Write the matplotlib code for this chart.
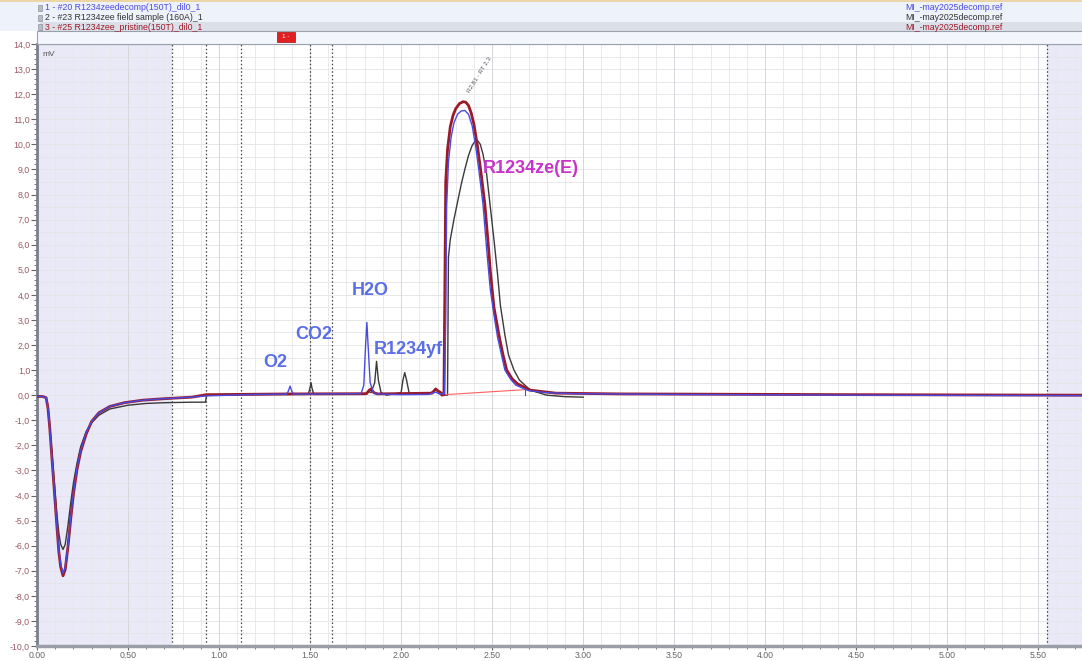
"""
GC chromatogram overlay (R1234ze decomposition samples), screenshot-style recreation.
"""
import matplotlib
matplotlib.use("Agg")
import matplotlib.pyplot as plt
from matplotlib.patches import Rectangle
from matplotlib.ticker import MultipleLocator, FuncFormatter
import numpy as np

plt.rcParams.update({
    "font.family": ["Liberation Sans", "DejaVu Sans"],
    "font.size": 7,
})

# ---- data (time in min, signal in mV) ----
blue_t = [0.00, 0.03, 0.05, 0.06, 0.07, 0.08, 0.09, 0.10, 0.11, 0.12, 0.13, 0.143, 0.155,
          0.17, 0.185, 0.20, 0.22, 0.24, 0.27, 0.30, 0.34, 0.40, 0.48, 0.58, 0.70, 0.85,
          0.93, 1.20, 1.37, 1.38, 1.39, 1.40, 1.41, 1.60, 1.78, 1.795, 1.805, 1.812, 1.82,
          1.83, 1.845, 1.86, 2.00, 2.15, 2.19, 2.21, 2.238, 2.245, 2.25, 2.26, 2.275, 2.29,
          2.31, 2.33, 2.35, 2.37, 2.39, 2.41, 2.43, 2.45, 2.47, 2.49, 2.51, 2.53, 2.55,
          2.57, 2.60, 2.63, 2.70, 2.80, 2.95, 3.50, 4.50, 5.74]
blue_v = [-0.05, -0.05, -0.10, -0.50, -1.30, -2.30, -3.30, -4.30, -5.30, -6.20, -6.75, -7.10, -6.85,
          -6.00, -4.90, -3.90, -2.90, -2.20, -1.50, -1.05, -0.70, -0.45, -0.30, -0.20, -0.14, -0.08,
          -0.03, 0.03, 0.04, 0.15, 0.36, 0.15, 0.04, 0.05, 0.06, 0.40, 2.00, 2.90, 1.80,
          0.50, 0.15, 0.05, 0.02, 0.03, 0.12, 0.05, 0.05, 3.00, 7.50, 9.30, 10.30, 10.85,
          11.20, 11.33, 11.35, 11.20, 10.75, 9.90, 8.80, 7.60, 5.80, 4.20, 3.20, 2.30, 1.65,
          1.00, 0.65, 0.40, 0.18, 0.10, 0.06, 0.03, 0.00, -0.02]

black_t = [0.00, 0.03, 0.05, 0.06, 0.07, 0.08, 0.09, 0.10, 0.11, 0.12, 0.13, 0.143, 0.155,
           0.17, 0.185, 0.20, 0.22, 0.24, 0.27, 0.30, 0.34, 0.40, 0.50, 0.60, 0.70, 0.85,
           0.925, 0.932, 1.20, 1.49, 1.50, 1.505, 1.51, 1.52, 1.80, 1.82, 1.835, 1.855,
           1.865, 1.875, 1.89, 1.92, 2.00, 2.01, 2.02, 2.03, 2.045, 2.15, 2.19, 2.215, 2.24,
           2.255, 2.26, 2.27, 2.29, 2.31, 2.33, 2.35, 2.37, 2.39, 2.405, 2.42, 2.435, 2.45,
           2.47, 2.49, 2.51, 2.53, 2.545, 2.57, 2.59, 2.62, 2.65, 2.71, 2.80, 2.90, 3.00]
black_v = [-0.05, -0.05, -0.10, -0.45, -1.20, -2.10, -3.00, -3.90, -4.80, -5.50, -5.95, -6.15, -5.95,
           -5.20, -4.30, -3.50, -2.70, -2.05, -1.45, -1.10, -0.80, -0.55, -0.40, -0.33, -0.30, -0.28,
           -0.28, 0.00, 0.02, 0.03, 0.30, 0.50, 0.30, 0.03, 0.03, 0.15, 0.10, 0.50,
           1.35, 0.60, 0.10, 0.00, 0.10, 0.60, 0.90, 0.60, 0.05, 0.05, 0.20, 0.15, 0.00,
           0.00, 5.50, 6.20, 7.00, 7.70, 8.40, 9.00, 9.55, 9.95, 10.12, 10.15, 10.00, 9.60,
           8.80, 7.50, 6.20, 4.80, 3.60, 2.40, 1.60, 1.00, 0.60, 0.20, 0.00, -0.06, -0.08]

red_t = [0.00, 0.03, 0.05, 0.06, 0.07, 0.08, 0.09, 0.10, 0.11, 0.12, 0.13, 0.143, 0.155,
         0.17, 0.185, 0.20, 0.22, 0.24, 0.27, 0.30, 0.34, 0.40, 0.48, 0.58, 0.70, 0.85,
         0.93, 1.40, 1.81, 1.825, 1.835, 1.85, 1.87, 2.17, 2.19, 2.21, 2.225, 2.235, 2.24,
         2.245, 2.255, 2.27, 2.285, 2.30, 2.32, 2.34, 2.355, 2.37, 2.385, 2.40, 2.42, 2.44,
         2.46, 2.48, 2.49, 2.51, 2.54, 2.56, 2.58, 2.61, 2.64, 2.71, 2.85, 3.20, 4.50, 5.74]
red_v = [-0.05, -0.05, -0.10, -0.50, -1.30, -2.30, -3.30, -4.30, -5.30, -6.25, -6.85, -7.20, -6.95,
         -6.05, -4.95, -3.95, -2.95, -2.25, -1.55, -1.05, -0.70, -0.45, -0.30, -0.20, -0.14, -0.08,
         0.02, 0.05, 0.06, 0.20, 0.25, 0.10, 0.05, 0.08, 0.25, 0.12, 0.00, 0.02, 4.00,
         8.50, 9.80, 10.70, 11.15, 11.42, 11.62, 11.70, 11.68, 11.55, 11.25, 10.80, 9.90, 8.80,
         7.60, 5.90, 4.95, 3.50, 2.30, 1.60, 1.00, 0.65, 0.45, 0.20, 0.08, 0.05, 0.02, 0.00]

# integration baseline drawn under the main peak
base_t = [2.24, 2.68]
base_v = [0.02, 0.22]

# dashed event markers and shaded (inactive) windows
event_t = [0.74, 0.93, 1.12, 1.50, 1.62, 5.55]
shade_windows = [(0.0, 0.74), (5.55, 5.74)]

# peak names: (label, time, mV, colour)
peak_labels = [
    ("O2", 1.31, 1.30, "#5a6ee6"),
    ("CO2", 1.52, 2.42, "#5a6ee6"),
    ("H2O", 1.83, 4.17, "#5a6ee6"),
    ("R1234yf", 2.04, 1.83, "#5a6ee6"),
    ("R1234ze(E)", 2.71, 9.05, "#c833c8"),
]

legend_rows = [
    ("1 - #20 R1234zeedecomp(150T)_dil0_1", "#4a4ae0"),
    ("2 - #23 R1234zee field sample (160A)_1", "#333333"),
    ("3 - #25 R1234zee_pristine(150T)_dil0_1", "#9a1a28"),
]
ref_name = "MI_-may2025decomp.ref"

W, H = 1082, 661


def fy(py):
    return 1 - py / H


def main():
    fig = plt.figure(figsize=(W / 100, H / 100), dpi=100)

    # ---- header (sample list) ----
    fig.patches.append(Rectangle((0, fy(2)), 1, 2 / H, transform=fig.transFigure,
                                 facecolor="#ecd6a8", edgecolor="none"))
    fig.patches.append(Rectangle((0, fy(31)), 1, 29 / H, transform=fig.transFigure,
                                 facecolor="#eef2fa", edgecolor="none"))
    fig.patches.append(Rectangle((40 / W, fy(31)), 1, 9 / H, transform=fig.transFigure,
                                 facecolor="#dcdfe8", edgecolor="none"))
    fig.patches.append(Rectangle((37 / W, fy(44)), 1, 13 / H, transform=fig.transFigure,
                                 facecolor="#f3f6fc", edgecolor="#9aa0ac", lw=0.8))
    fig.patches.append(Rectangle((277 / W, fy(42)), 18 / W, 10 / H, transform=fig.transFigure,
                                 facecolor="#e02020", edgecolor="#a01010", lw=0.5))
    fig.text(286 / W, fy(37), "1 -", color="white", fontsize=4.5, ha="center", va="center")
    for i, (name, col) in enumerate(legend_rows):
        y = fy(8 + i * 9.5)
        fig.patches.append(Rectangle((38 / W, y - 3 / H), 4 / W, 6 / H, transform=fig.transFigure,
                                     facecolor="#b8bcc4", edgecolor="#80848c", lw=0.4))
        fig.text(45 / W, y, name, color=col, fontsize=6.3, va="center")
        fig.text(905 / W, y, ref_name, color=col, fontsize=6.3, va="center")

    # ---- chromatogram ----
    ax = fig.add_axes([37 / W, 15 / H, (W - 37) / W, 602 / H])
    ax.set_xlim(0, 5.74)
    ax.set_ylim(-10, 14)

    for x0, x1 in shade_windows:
        ax.axvspan(x0, x1, color="#e9e9f8", lw=0, zorder=0)
    for yv in np.arange(-10, 14.01, 0.5):
        ax.axhline(yv, color="#e4e4e8", lw=0.6, zorder=0.5)
    for xv in np.arange(0, 5.75, 0.1):
        ax.axvline(xv, color="#e6e6ea", lw=0.6, zorder=0.5)
    for xv in np.arange(0, 5.75, 0.5):
        ax.axvline(xv, color="#d6d6dc", lw=0.7, zorder=0.6)
    for xv in event_t:
        ax.axvline(xv, color="#444444", lw=0.9, ls=(0, (1.2, 1.8)), zorder=1)

    ax.plot(black_t, black_v, color="#3a3a3a", lw=1.0, zorder=3)
    ax.plot(red_t, red_v, color="#9a1a28", lw=2.0, zorder=4, solid_joinstyle="round")
    ax.plot(blue_t, blue_v, color="#4a4ae0", lw=1.0, zorder=5)
    ax.plot(base_t, base_v, color="#ff6060", lw=0.8, zorder=3)
    ax.plot([base_t[1], base_t[1]], [0.0, 0.2], color="#4a4ae0", lw=0.8, zorder=5)

    for label, t, v, col in peak_labels:
        ax.text(t, v, label, color=col, fontsize=13, weight="bold", ha="center", va="center",
                zorder=6)
    ax.text(2.43, 12.8, "R2,81 - RT 2,3", fontsize=4.5, color="#555555", rotation=58,
            ha="center", va="center")
    ax.text(0.03, 13.6, "mV", fontsize=6, color="#555555", va="center")

    ax.xaxis.set_major_locator(MultipleLocator(0.5))
    ax.xaxis.set_minor_locator(MultipleLocator(0.1))
    ax.yaxis.set_major_locator(MultipleLocator(1.0))
    ax.yaxis.set_minor_locator(MultipleLocator(0.2))
    ax.xaxis.set_major_formatter(FuncFormatter(lambda v, p: f"{v:.2f}"))
    ax.yaxis.set_major_formatter(FuncFormatter(lambda v, p: f"{v:.1f}".replace(".", ",")))
    ax.tick_params(axis="y", which="major", length=4, labelsize=6.3, labelcolor="#9a5a66",
                   color="#666666", pad=1)
    ax.tick_params(axis="y", which="minor", length=2, color="#666666")
    ax.tick_params(axis="x", which="major", length=3, labelsize=6.3, labelcolor="#666666",
                   color="#666666", pad=0.5)
    ax.tick_params(axis="x", which="minor", length=2, color="#666666")

    ax.spines["left"].set_color("#7a7f88")
    ax.spines["left"].set_linewidth(2.0)
    ax.spines["bottom"].set_color("#9a9ea6")
    ax.spines["bottom"].set_linewidth(2.5)
    ax.spines["top"].set_color("#9aa0ac")
    ax.spines["top"].set_linewidth(0.8)
    ax.spines["right"].set_visible(False)

    fig.savefig("out.png", dpi=100, facecolor="white")
    plt.close(fig)


if __name__ == "__main__":
    main()
